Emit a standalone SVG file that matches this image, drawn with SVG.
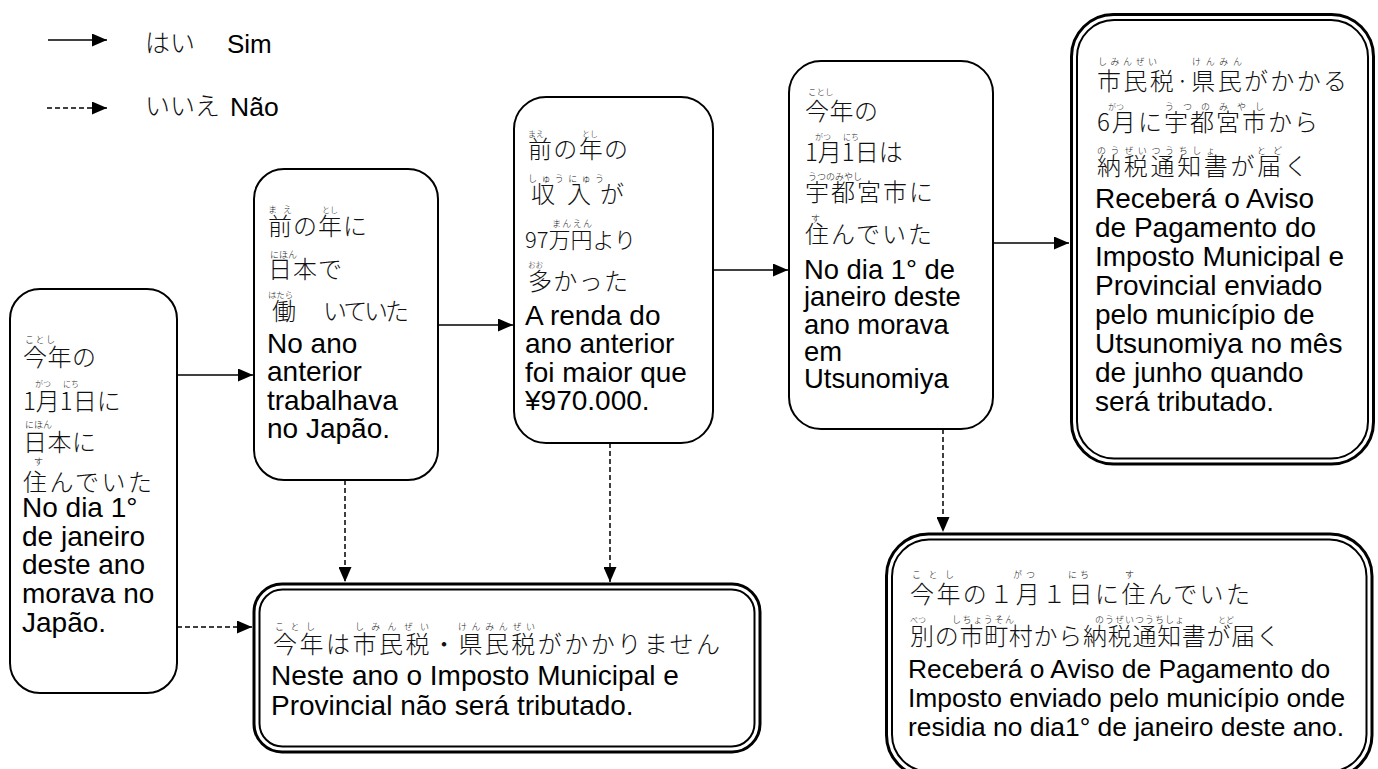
<svg xmlns="http://www.w3.org/2000/svg" width="1378" height="769" viewBox="0 0 1378 769">
<defs>
<style>
.box{fill:#fff;stroke:#000;stroke-width:2}
.dbo{fill:#fff;stroke:#000;stroke-width:3}
.dbi{fill:none;stroke:#000;stroke-width:2}
.jp{font-family:"Noto Sans CJK JP",sans-serif;font-size:24px;font-weight:300;fill:#111}
.rb{font-family:"Noto Sans CJK JP",sans-serif;font-size:9px;font-weight:300;fill:#111}
.pt{font-family:"Liberation Sans",Arial,sans-serif;font-size:28px;fill:#000}
.yes{stroke:#000;stroke-width:1.5;fill:none}
.no{stroke:#000;stroke-width:1.5;fill:none;stroke-dasharray:5 3}
</style>
<marker id="arr" viewBox="0 0 15 13" refX="15" refY="6.5" markerWidth="15" markerHeight="13" markerUnits="userSpaceOnUse" orient="auto">
<path d="M0,0 L15,6.5 L0,13 z" fill="#000"/>
</marker>
</defs>
<rect width="1378" height="769" fill="#fff"/>

<g id="legend">
<line class="yes" x1="48" y1="40" x2="107" y2="40" marker-end="url(#arr)"/>
<text class="jp" x="145" y="52" style="font-size:25px">はい</text>
<text class="pt" x="227" y="53" style="font-size:26px">Sim</text>
<line class="no" x1="47" y1="108" x2="107" y2="108" marker-end="url(#arr)"/>
<text class="jp" x="145" y="115" style="font-size:25px">いいえ</text>
<text class="pt" x="230" y="116" style="font-size:26.5px">Não</text>
</g>

<g id="connectors">
<line class="yes" x1="177" y1="375" x2="253" y2="375" marker-end="url(#arr)"/>
<line class="no" x1="177" y1="627" x2="252" y2="627" marker-end="url(#arr)"/>
<line class="yes" x1="438" y1="325" x2="513" y2="325" marker-end="url(#arr)"/>
<line class="no" x1="345" y1="480" x2="345" y2="582" marker-end="url(#arr)"/>
<line class="yes" x1="713" y1="270" x2="788" y2="270" marker-end="url(#arr)"/>
<line class="no" x1="610" y1="443" x2="610" y2="582" marker-end="url(#arr)"/>
<line class="yes" x1="993" y1="243" x2="1069" y2="243" marker-end="url(#arr)"/>
<line class="no" x1="943" y1="429" x2="943" y2="532" marker-end="url(#arr)"/>
</g>

<g id="nodeA">
<rect class="box" x="10" y="289" width="167" height="404" rx="30"/>
<text class="rb" x="25" y="343" textLength="30" lengthAdjust="spacing">ことし</text>
<text class="jp" x="23" y="366" textLength="73" lengthAdjust="spacing">今年の</text>
<text class="rb" x="35" y="387" style="font-size:8px">がつ</text>
<text class="rb" x="63" y="387" style="font-size:8px">にち</text>
<text class="jp" x="23" y="410">1月1日に</text>
<text class="rb" x="25" y="428">にほん</text>
<text class="jp" x="23" y="451" textLength="73" lengthAdjust="spacing">日本に</text>
<text class="rb" x="34" y="465">す</text>
<text class="jp" x="23" y="491" textLength="129" lengthAdjust="spacing">住んでいた</text>
<text class="pt" x="22" y="517">No dia 1°</text>
<text class="pt" x="22" y="545.7">de janeiro</text>
<text class="pt" x="22" y="574.4">deste ano</text>
<text class="pt" x="22" y="603">morava no</text>
<text class="pt" x="22" y="631.7">Japão.</text>
</g>

<g id="nodeB">
<rect class="box" x="254" y="169" width="184" height="311" rx="30"/>
<text class="rb" x="268" y="213" textLength="24" lengthAdjust="spacing">まえ</text>
<text class="rb" x="322" y="213" style="font-size:8px">とし</text>
<text class="jp" x="268" y="235" textLength="99" lengthAdjust="spacing">前の年に</text>
<text class="rb" x="270" y="258">にほん</text>
<text class="jp" x="268" y="278" textLength="74" lengthAdjust="spacing">日本で</text>
<text class="rb" x="268" y="298" style="font-size:8.5px">はたら</text>
<text class="jp" x="272" y="320">働</text>
<text class="jp" x="323" y="320" textLength="86" lengthAdjust="spacing">いていた</text>
<text class="pt" x="267" y="353">No ano</text>
<text class="pt" x="267" y="381.3">anterior</text>
<text class="pt" x="267" y="409.6">trabalhava</text>
<text class="pt" x="267" y="438">no Japão.</text>
</g>

<g id="nodeC">
<rect class="box" x="514" y="97" width="199" height="346" rx="32"/>
<text class="rb" x="528" y="137" style="font-size:8px">まえ</text>
<text class="rb" x="582" y="137" style="font-size:8px">とし</text>
<text class="jp" x="528" y="158" textLength="100" lengthAdjust="spacing">前の年の</text>
<text class="rb" x="528" y="182" textLength="76" lengthAdjust="spacing">しゅうにゅう</text>
<text class="jp" x="531" y="203">収</text>
<text class="jp" x="567" y="203">入</text>
<text class="jp" x="600" y="203">が</text>
<text class="rb" x="552" y="227" textLength="40" lengthAdjust="spacing">まんえん</text>
<text class="jp" x="525" y="248" style="font-size:22px">97万円より</text>
<text class="rb" x="528" y="268" style="font-size:7.5px">おお</text>
<text class="jp" x="528" y="290" textLength="100" lengthAdjust="spacing">多かった</text>
<text class="pt" x="525" y="325">A renda do</text>
<text class="pt" x="525" y="353.3">ano anterior</text>
<text class="pt" x="525" y="381.6">foi maior que</text>
<text class="pt" x="525" y="410">¥970.000.</text>
</g>

<g id="nodeD">
<rect class="box" x="789" y="61" width="204" height="368" rx="32"/>
<text class="rb" x="808" y="95" style="font-size:8.5px">ことし</text>
<text class="jp" x="805" y="120" textLength="73" lengthAdjust="spacing">今年の</text>
<text class="rb" x="815" y="140" style="font-size:8px">がつ</text>
<text class="rb" x="843" y="140" style="font-size:8px">にち</text>
<text class="jp" x="805" y="161">1月1日は</text>
<text class="rb" x="808" y="180">うつのみやし</text>
<text class="jp" x="805" y="201" textLength="128" lengthAdjust="spacing">宇都宮市に</text>
<text class="rb" x="811" y="222">す</text>
<text class="jp" x="805" y="243" textLength="127" lengthAdjust="spacing">住んでいた</text>
<text class="pt" x="804" y="279" style="font-size:27.4px">No dia 1° de</text>
<text class="pt" x="804" y="306.3" style="font-size:27.4px">janeiro deste</text>
<text class="pt" x="804" y="333.6" style="font-size:27.4px">ano morava</text>
<text class="pt" x="804" y="360.9" style="font-size:27.4px">em</text>
<text class="pt" x="804" y="388.2" style="font-size:27.4px">Utsunomiya</text>
</g>

<g id="nodeE">
<rect class="dbo" x="1071.5" y="14.5" width="302" height="449.5" rx="42"/>
<rect class="dbi" x="1077" y="20" width="291" height="438.5" rx="37"/>
<text class="rb" x="1098" y="65" textLength="59" lengthAdjust="spacing">しみんぜい</text>
<text class="rb" x="1192" y="65" textLength="50" lengthAdjust="spacing">けんみん</text>
<text class="jp" x="1097" y="90" textLength="250" lengthAdjust="spacing">市民税·県民がかかる</text>
<text class="rb" x="1108" y="110" style="font-size:8px">がつ</text>
<text class="rb" x="1165" y="110" textLength="99" lengthAdjust="spacing">うつのみやし</text>
<text class="jp" x="1097" y="131" textLength="221" lengthAdjust="spacing">6月に宇都宮市から</text>
<text class="rb" x="1097" y="154" textLength="118" lengthAdjust="spacing">のうぜいつうちしょ</text>
<text class="rb" x="1257" y="154" textLength="25" lengthAdjust="spacing">とど</text>
<text class="jp" x="1097" y="175" textLength="211" lengthAdjust="spacing">納税通知書が届く</text>
<text class="pt" x="1095" y="208">Receberá o Aviso</text>
<text class="pt" x="1095" y="237">de Pagamento do</text>
<text class="pt" x="1095" y="266">Imposto Municipal e</text>
<text class="pt" x="1095" y="295">Provincial enviado</text>
<text class="pt" x="1095" y="324">pelo município de</text>
<text class="pt" x="1095" y="353">Utsunomiya no mês</text>
<text class="pt" x="1095" y="382">de junho quando</text>
<text class="pt" x="1095" y="411">será tributado.</text>
</g>

<g id="nodeG">
<rect class="dbo" x="254" y="584" width="506" height="168" rx="28"/>
<rect class="dbi" x="259.5" y="589.5" width="495" height="157" rx="23"/>
<text class="rb" x="275" y="630" textLength="40" lengthAdjust="spacing">ことし</text>
<text class="rb" x="355" y="630" textLength="74" lengthAdjust="spacing">しみんぜい</text>
<text class="rb" x="458" y="630" textLength="77" lengthAdjust="spacing">けんみんぜい</text>
<text class="jp" x="273" y="653" textLength="447" lengthAdjust="spacing">今年は市民税・県民税がかかりません</text>
<text class="pt" x="271" y="685">Neste ano o Imposto Municipal e</text>
<text class="pt" x="271" y="715">Provincial não será tributado.</text>
</g>

<g id="nodeF">
<rect class="dbo" x="886.5" y="534" width="485.5" height="243" rx="42"/>
<rect class="dbi" x="892" y="539.5" width="474.5" height="232" rx="37"/>
<text class="rb" x="912" y="578" textLength="42" lengthAdjust="spacing">ことし</text>
<text class="rb" x="1013" y="578" textLength="22" lengthAdjust="spacing">がつ</text>
<text class="rb" x="1068" y="578" textLength="21" lengthAdjust="spacing">にち</text>
<text class="rb" x="1125" y="578">す</text>
<text class="jp" x="910" y="603" textLength="340" lengthAdjust="spacing">今年の１月１日に住んでいた</text>
<text class="rb" x="910" y="623" style="font-size:8px">べつ</text>
<text class="rb" x="952" y="623" textLength="62" lengthAdjust="spacing">しちょうそん</text>
<text class="rb" x="1095" y="623" textLength="89" lengthAdjust="spacing">のうぜいつうちしょ</text>
<text class="rb" x="1218" y="623" style="font-size:8px">とど</text>
<text class="jp" x="910" y="645" textLength="370" lengthAdjust="spacing">別の市町村から納税通知書が届く</text>
<text class="pt" x="908" y="678" style="font-size:26.4px">Receberá o Aviso de Pagamento do</text>
<text class="pt" x="908" y="707" style="font-size:26.4px">Imposto enviado pelo município onde</text>
<text class="pt" x="908" y="736" style="font-size:26.4px">residia no dia1° de janeiro deste ano.</text>
</g>
</svg>
